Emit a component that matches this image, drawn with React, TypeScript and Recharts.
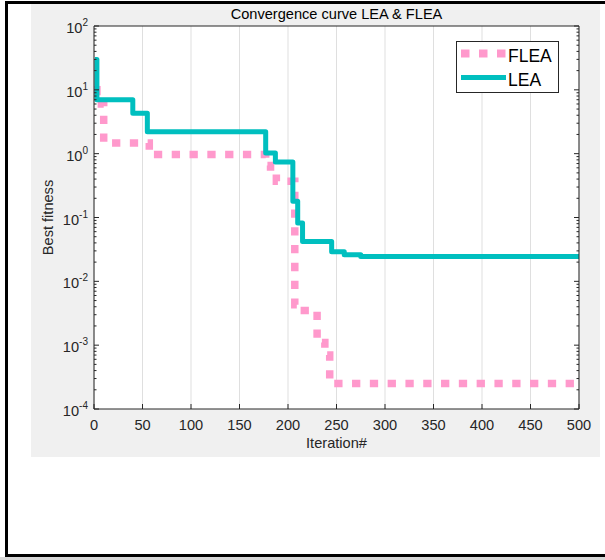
import React from 'react';
import { LineChart, Line, XAxis, YAxis, CartesianGrid, Legend, Label } from 'recharts';

// iteration ticks and log decades
const iterationTicks = [0, 50, 100, 150, 200, 250, 300, 350, 400, 450, 500];
const decadeExponents = [-4, -3, -2, -1, 0, 1, 2];
const minorSteps = [2, 3, 4, 5, 6, 7, 8, 9];

// FLEA best fitness (step changes)
const fleaIterations = [0, 3, 10, 57, 177, 182, 188, 207, 212, 230, 238, 243, 500];
const fleaFitness = [10, 6, 1.47, 0.97, 0.65, 0.5, 0.37, 0.0043, 0.0035, 0.0011, 0.0007, 0.00025, 0.00025];

// LEA best fitness
const leaIterations = [1, 3, 40, 55, 177, 187, 205, 210, 215, 245, 258, 275, 500];
const leaFitness = [30, 7, 4.3, 2.2, 1.02, 0.74, 0.18, 0.082, 0.042, 0.029, 0.026, 0.0245, 0.0245];

const fleaData = fleaIterations.map((it, i) => ({ iter: it, fitness: fleaFitness[i] }));
const leaData = leaIterations.map((it, i) => ({ iter: it, fitness: leaFitness[i] }));

const fitnessTicks: number[] = [];
decadeExponents.forEach((e, i) => {
  fitnessTicks.push(Math.pow(10, e));
  if (i < decadeExponents.length - 1) minorSteps.forEach((m) => fitnessTicks.push(m * Math.pow(10, e)));
});

const FONT = '"Liberation Sans", Arial, Helvetica, sans-serif';
const INK = '#262626';
const PINK = '#ff99cc';
const TEAL = '#00bfbf';

const isDecade = (v: number) => Math.abs(Math.log10(v) - Math.round(Math.log10(v))) < 1e-9;

const BottomTick = ({ x, y, payload }: any) => (
  <g>
    <line x1={x} y1={y} x2={x} y2={y - 5} stroke={INK} />
    <text x={x} y={y + 20.5} textAnchor="middle" fontSize={14.6} fontFamily={FONT} fill={INK}>
      {payload.value}
    </text>
  </g>
);

const TopTick = ({ x, y }: any) => <line x1={x} y1={y} x2={x} y2={y + 5} stroke={INK} />;

const LeftTick = ({ x, y, payload }: any) => {
  const major = isDecade(payload.value);
  return (
    <g>
      <line x1={x} y1={y} x2={x + (major ? 5 : 2.5)} y2={y} stroke={INK} />
      {major && (
        <text x={x - 6} y={y + 7} textAnchor="end" fontSize={14.6} fontFamily={FONT} fill={INK}>
          <tspan>10</tspan>
          <tspan dy={-7} fontSize={10}>{String(Math.round(Math.log10(payload.value)))}</tspan>
        </text>
      )}
    </g>
  );
};

const RightTick = ({ x, y, payload }: any) => {
  const major = isDecade(payload.value);
  return <line x1={x} y1={y} x2={x - (major ? 5 : 2.5)} y2={y} stroke={INK} />;
};

const renderLegend = (props: any) => {
  const items = props.payload || [];
  return (
    <svg width={103} height={52} style={{ display: 'block' }}>
      <rect x={0.5} y={0.5} width={102} height={51} fill="#ffffff" stroke={INK} />
      {items.map((entry: any, i: number) => {
        const cy = 12.5 + i * 24;
        const dotted = entry.value === 'FLEA';
        return (
          <g key={entry.value}>
            <line
              x1={5}
              x2={50}
              y1={cy}
              y2={cy}
              stroke={entry.color}
              strokeWidth={dotted ? 8 : 5}
              strokeDasharray={dotted ? '8.5 9.5' : undefined}
            />
            <text x={52} y={cy + 8.2} fontSize={17.5} fontFamily={FONT} fill="#000">
              {entry.value}
            </text>
          </g>
        );
      })}
    </svg>
  );
};

export default function App() {
  return (
    <div style={{ position: 'absolute', left: 0, top: 0, width: 605, height: 560, overflow: 'hidden', background: '#ffffff' }}>
      <div
        style={{
          position: 'absolute',
          left: 5,
          top: 1,
          width: 800,
          height: 550,
          border: '3px solid #000',
          boxSizing: 'content-box',
        }}
      />
      <div style={{ position: 'absolute', left: 0, top: 557, width: 605, height: 10, background: '#d6d6d6' }} />
      <div style={{ position: 'absolute', left: 31, top: 4, width: 569, height: 453, background: '#f0f0f0' }}>
        <LineChart width={569} height={453} margin={{ top: 0, right: 0, bottom: 0, left: 0 }}>
          <CartesianGrid
            horizontal={false}
            stroke="#dfdfdf"
            fill="#ffffff"
            fillOpacity={1}
            xAxisId="bottom"
            yAxisId="left"
          />
          <XAxis
            xAxisId="bottom"
            dataKey="iter"
            type="number"
            domain={[0, 500]}
            ticks={iterationTicks}
            interval={0}
            height={48}
            tickSize={0}
            tickMargin={0}
            tick={BottomTick}
            axisLine={{ stroke: INK }}
            allowDataOverflow
          >
            <Label
              content={({ viewBox }: any) => (
                <text
                  x={viewBox.x + viewBox.width / 2}
                  y={viewBox.y + 39}
                  textAnchor="middle"
                  fontSize={14.6}
                  fontFamily={FONT}
                  fill={INK}
                >
                  Iteration#
                </text>
              )}
            />
          </XAxis>
          <XAxis
            xAxisId="top"
            orientation="top"
            type="number"
            domain={[0, 500]}
            ticks={iterationTicks}
            interval={0}
            height={22}
            tickSize={0}
            tickMargin={0}
            tick={TopTick}
            axisLine={{ stroke: INK }}
            allowDataOverflow
          >
            <Label
              content={({ viewBox }: any) => (
                <text
                  x={viewBox.x + viewBox.width / 2}
                  y={viewBox.y + 15}
                  textAnchor="middle"
                  fontSize={14.6}
                  fontFamily={FONT}
                  fill="#000"
                >
                  Convergence curve LEA &amp; FLEA
                </text>
              )}
            />
          </XAxis>
          <YAxis
            yAxisId="left"
            type="number"
            scale="log"
            domain={[1e-4, 100]}
            ticks={fitnessTicks}
            interval={0}
            width={63}
            tickSize={0}
            tickMargin={0}
            tick={LeftTick}
            axisLine={{ stroke: INK }}
            allowDataOverflow
          >
            <Label
              content={({ viewBox }: any) => {
                const cx = viewBox.x + 21.5;
                const cy = viewBox.y + viewBox.height / 2;
                return (
                  <text
                    x={cx}
                    y={cy}
                    transform={`rotate(-90 ${cx} ${cy})`}
                    textAnchor="middle"
                    fontSize={14.6}
                    fontFamily={FONT}
                    fill={INK}
                  >
                    Best fitness
                  </text>
                );
              }}
            />
          </YAxis>
          <YAxis
            yAxisId="right"
            orientation="right"
            type="number"
            scale="log"
            domain={[1e-4, 100]}
            ticks={fitnessTicks}
            interval={0}
            width={21}
            tickSize={0}
            tickMargin={0}
            tick={RightTick}
            axisLine={{ stroke: INK }}
            allowDataOverflow
          />
          <Line
            data={fleaData}
            xAxisId="bottom"
            yAxisId="left"
            dataKey="fitness"
            name="FLEA"
            type="stepAfter"
            stroke={PINK}
            strokeWidth={7.5}
            strokeDasharray="8.3 9.5"
            dot={false}
            isAnimationActive={false}
          />
          <Line
            data={leaData}
            xAxisId="bottom"
            yAxisId="left"
            dataKey="fitness"
            name="LEA"
            type="stepAfter"
            stroke={TEAL}
            strokeWidth={5}
            strokeLinejoin="round"
            dot={false}
            isAnimationActive={false}
          />
          <Legend
            layout="vertical"
            align="center"
            verticalAlign="middle"
            content={renderLegend}
            wrapperStyle={{ position: 'absolute', left: 425, top: 37, width: 103, height: 52 }}
          />
        </LineChart>
      </div>
    </div>
  );
}
